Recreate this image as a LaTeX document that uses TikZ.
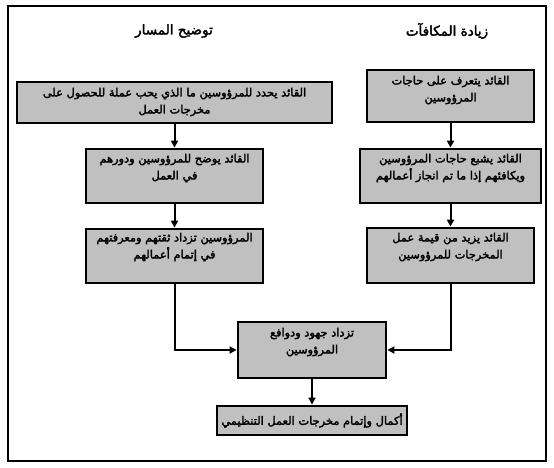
\documentclass[tikz,border=0pt]{standalone}
\usepackage{fontspec}
\newfontfamily\arabicfont[Script=Arabic,FakeBold=2.5]{DejaVu Sans}
\TeXXeTstate=1
\usetikzlibrary{arrows.meta}
\definecolor{boxgray}{RGB}{192,192,192}
\newcommand{\arl}[1]{\beginR #1\endR}
\begin{document}
\begin{tikzpicture}[x=1pt,y=-1pt,
  box/.style={draw, line width=2.8pt, fill=boxgray, inner sep=0pt},
  txt/.style={anchor=north, align=center, inner sep=0pt, font=\arabicfont\fontsize{11.4}{17}\selectfont},
  head/.style={inner sep=0pt, font=\arabicfont\fontsize{13.5}{15}\selectfont},
  arr/.style={line width=2pt, -{Triangle[length=7pt,width=7pt]}}]
\useasboundingbox (0,0) rectangle (554,468);
\node[draw, line width=2pt, minimum width=538pt, minimum height=455pt, inner sep=0pt] (frame) at (277,233.5) {};
\node[head] (h1) at (174,31) {\arl{توضيح المسار}};
\node[head] (h2) at (447,31) {\arl{زيادة المكافآت}};
% left column
\node[box, minimum width=315pt, minimum height=41pt] (L1) at (174.5,102.5) {};
\node[box, minimum width=177pt, minimum height=54pt] (L2) at (174.5,176) {};
\node[box, minimum width=177pt, minimum height=54pt] (L3) at (174.5,256) {};
% right column
\node[box, minimum width=167pt, minimum height=52pt] (R1) at (450.5,96) {};
\node[box, minimum width=181pt, minimum height=54pt] (R2) at (450.5,176) {};
\node[box, minimum width=167pt, minimum height=55pt] (R3) at (450.5,255.5) {};
% merge and result
\node[box, minimum width=148pt, minimum height=56pt] (C) at (312,350) {};
\node[box, minimum width=190pt, minimum height=29pt] (B) at (312,420.5) {};
% texts
\node[txt] (L1t) at ([yshift=-7pt]L1.north) {\arl{القائد يحدد للمرؤوسين ما الذي يحب عملة للحصول على}\\\arl{مخرجات العمل}};
\node[txt] (L2t) at ([yshift=-6pt]L2.north) {\arl{القائد يوضح للمرؤوسين ودورهم}\\\arl{في العمل}};
\node[txt] (L3t) at ([yshift=-5pt]L3.north) {\arl{المرؤوسين تزداد ثقتهم ومعرفتهم}\\\arl{في إتمام أعمالهم}};
\node[txt] (R1t) at ([yshift=-7pt]R1.north) {\arl{القائد يتعرف على حاجات}\\\arl{المرؤوسين}};
\node[txt] (R2t) at ([yshift=-6pt]R2.north) {\arl{القائد يشبع حاجات المرؤوسين}\\\arl{ويكافئهم إذا ما تم انجاز أعمالهم}};
\node[txt] (R3t) at ([yshift=-6pt]R3.north) {\arl{القائد يزيد من قيمة عمل}\\\arl{المخرجات للمرؤوسين}};
\node[txt] (Ct) at ([yshift=-7pt]C.north) {\arl{تزداد جهود ودوافع}\\\arl{المرؤوسين}};
\node[txt, anchor=center] (Bt) at (B.center) {\arl{أكمال وإتمام مخرجات العمل التنظيمي}};
% connectors
\draw[arr] (L1.south) -- (L2.north);
\draw[arr] (L2.south) -- (L3.north);
\draw[arr] (R1.south) -- (R2.north);
\draw[arr] (R2.south) -- (R3.north);
\draw[arr] (L3.south) |- (C.west);
\draw[arr] (R3.south) |- (C.east);
\draw[arr] (C.south) -- (B.north);
\end{tikzpicture}
\end{document}
